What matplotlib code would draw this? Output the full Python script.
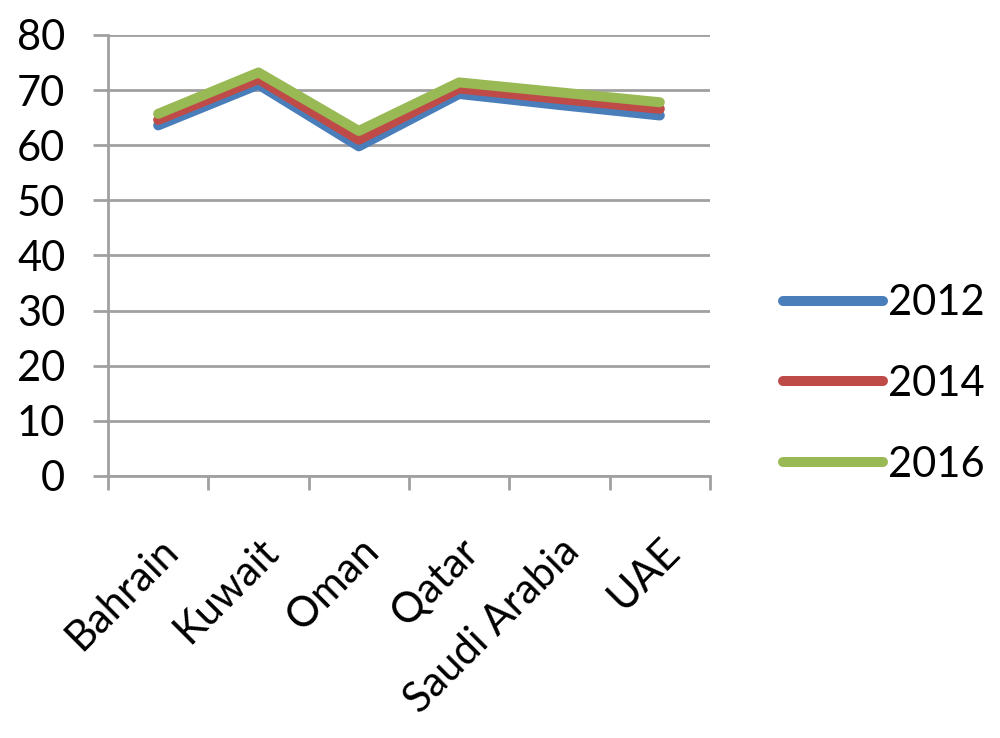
import numpy as np
import matplotlib
matplotlib.use("Agg")
import matplotlib.pyplot as plt

plt.rcParams['font.family'] = ['Lato', 'DejaVu Sans']

countries = ["Bahrain", "Kuwait", "Oman", "Qatar", "Saudi Arabia", "UAE"]
v2012 = [63.6, 71.0, 59.8, 69.3, 67.3, 65.4]
v2014 = [64.6, 72.0, 61.0, 70.3, 68.4, 66.6]
v2016 = [65.7, 73.2, 62.6, 71.4, 69.6, 67.8]
years = ["2012", "2014", "2016"]
colors = ["#4a7ebb", "#be4b48", "#98b954"]

fig = plt.figure(figsize=(10, 7.38), dpi=100)
ax = fig.add_axes([0.108, 1 - 476 / 738, 0.602, 441 / 738])

x = np.arange(len(countries))
for vals, lab, c in zip([v2012, v2014, v2016], years, colors):
    ax.plot(x, vals, color=c, lw=7.2, label=lab, solid_capstyle='round',
            solid_joinstyle='round')

grid_c = "#a0a0a0"
ax.set_xlim(-0.5, len(countries) - 0.5)
ax.set_ylim(0, 80)
ax.set_yticks(np.arange(0, 81, 10))
ax.yaxis.grid(True, color=grid_c, lw=2)
ax.set_axisbelow(True)

ax.set_xticks(x)
ax.set_xticklabels(countries, rotation=45, ha='right', rotation_mode='anchor')
ax.set_xticks(np.arange(-0.5, len(countries), 1), minor=True)
ax.tick_params(axis='x', which='major', length=0, pad=40, labelsize=30)
ax.tick_params(axis='x', which='minor', length=10, width=2, color=grid_c)
ax.tick_params(axis='y', length=10.8, width=2, color=grid_c, labelsize=30, pad=20)

for s in ['top', 'right']:
    ax.spines[s].set_visible(False)
for s in ['left', 'bottom']:
    ax.spines[s].set_color(grid_c)
    ax.spines[s].set_linewidth(2)

ax.legend(loc='center left', bbox_to_anchor=(0.783, 1 - 384 / 738),
          bbox_transform=fig.transFigure, frameon=False, fontsize=30,
          handlelength=2.4, labelspacing=1.03, handletextpad=0.12,
          borderaxespad=0, borderpad=0)

fig.savefig("out.png", dpi=100)
